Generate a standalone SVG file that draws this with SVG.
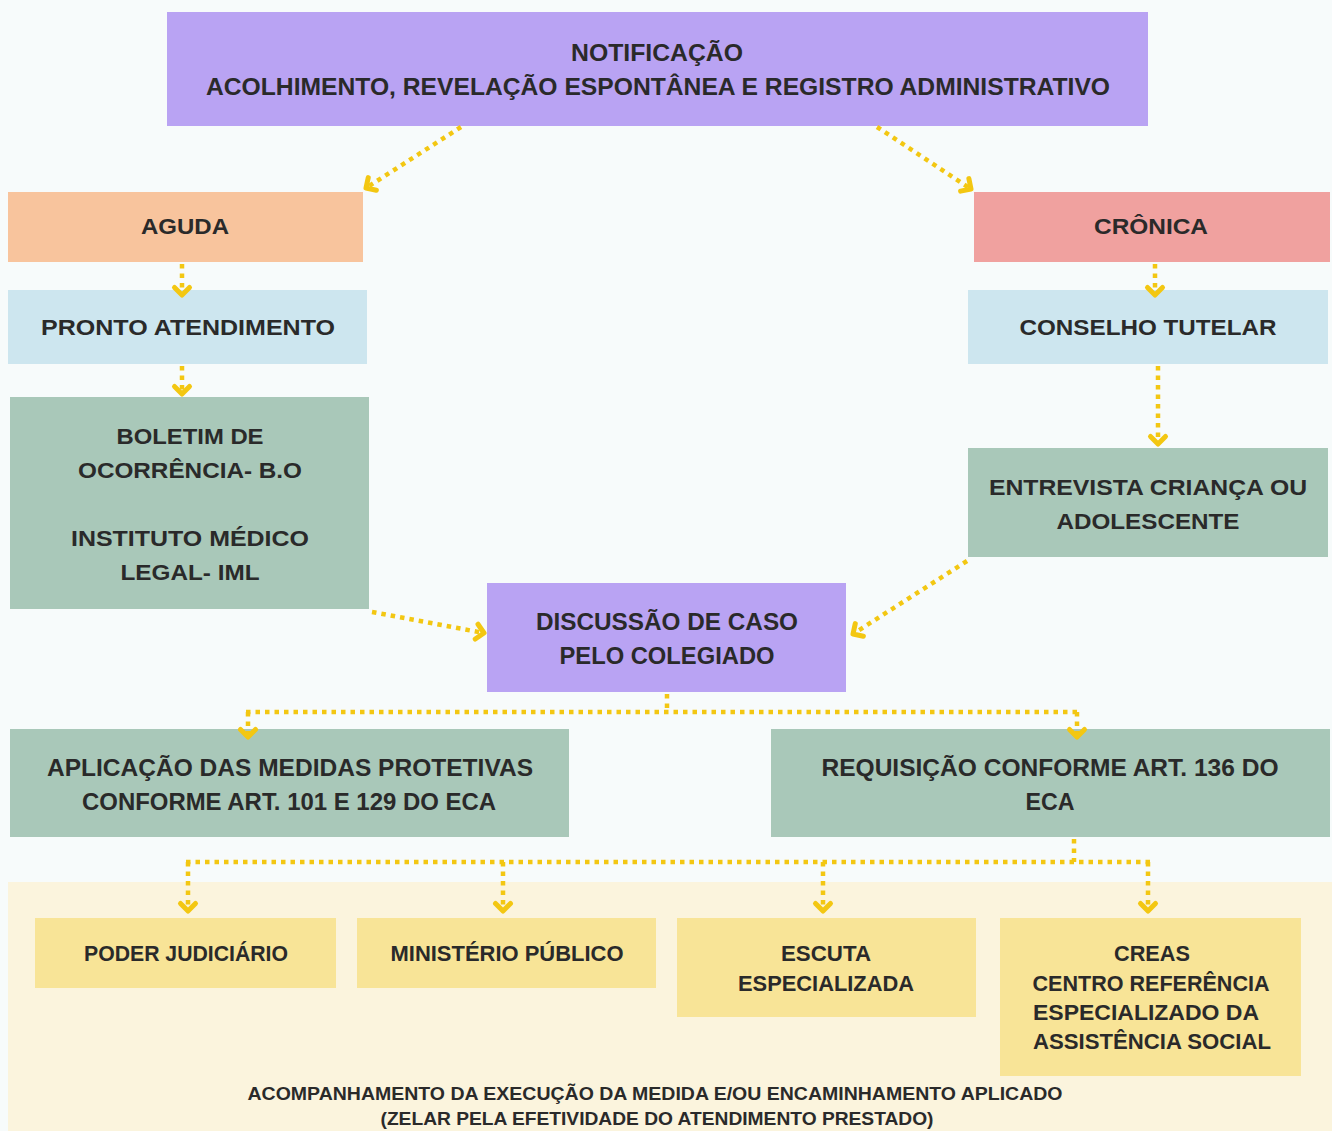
<svg xmlns="http://www.w3.org/2000/svg" width="1332" height="1131" viewBox="0 0 1332 1131">
<defs>
<marker id="chev" viewBox="-12 -12 24 24" refX="0" refY="0" markerWidth="24" markerHeight="24" markerUnits="userSpaceOnUse" orient="auto">
<path d="M-7.5,-7.5 L0,0 L-7.5,7.5" fill="none" stroke="#f3c712" stroke-width="5" stroke-linecap="round" stroke-linejoin="round"/>
</marker>
<style>
.t{font-family:"Liberation Sans",Arial,sans-serif;font-weight:bold;fill:#2a2a2a;text-anchor:middle;font-size:22px}
.c{font-family:"Liberation Sans",Arial,sans-serif;font-weight:bold;fill:#2a2a2a;text-anchor:middle;font-size:24px}
.f{font-family:"Liberation Sans",Arial,sans-serif;font-weight:bold;fill:#2a2a2a;text-anchor:middle;font-size:18px}
.d{fill:none;stroke:#f3c712;stroke-width:4.5;stroke-dasharray:4.5 5}
.a{marker-end:url(#chev)}
.purple{fill:#b9a3f3}
.green{fill:#a9c8b9}
.blue{fill:#cde6ef}
.yel{fill:#f8e497}
</style>
</defs>
<rect x="0" y="0" width="1332" height="1131" fill="#f7fbfb"/>
<rect x="8" y="882" width="1324" height="249" fill="#fbf4dd"/>

<g id="notificacao">
<rect class="purple" x="167" y="12" width="981" height="114"/>
<text class="c" x="657" y="61" textLength="172" lengthAdjust="spacingAndGlyphs">NOTIFICAÇÃO</text>
<text class="c" x="658" y="95" textLength="904" lengthAdjust="spacingAndGlyphs">ACOLHIMENTO, REVELAÇÃO ESPONTÂNEA E REGISTRO ADMINISTRATIVO</text>
</g>
<g id="aguda">
<rect x="8" y="192" width="355" height="70" fill="#f8c49d"/>
<text class="t" x="185" y="234" textLength="88" lengthAdjust="spacingAndGlyphs">AGUDA</text>
</g>
<g id="cronica">
<rect x="974" y="192" width="356" height="70" fill="#f0a19f"/>
<text class="t" x="1151" y="234" textLength="114" lengthAdjust="spacingAndGlyphs">CRÔNICA</text>
</g>
<g id="pronto">
<rect class="blue" x="8" y="290" width="359" height="74"/>
<text class="t" x="188" y="335" textLength="294" lengthAdjust="spacingAndGlyphs">PRONTO ATENDIMENTO</text>
</g>
<g id="conselho">
<rect class="blue" x="968" y="290" width="360" height="74"/>
<text class="t" x="1148" y="335" textLength="257" lengthAdjust="spacingAndGlyphs">CONSELHO TUTELAR</text>
</g>
<g id="boletim">
<rect class="green" x="10" y="397" width="359" height="212"/>
<text class="t" x="190" y="444" textLength="147" lengthAdjust="spacingAndGlyphs">BOLETIM DE</text>
<text class="t" x="190" y="478" textLength="224" lengthAdjust="spacingAndGlyphs">OCORRÊNCIA- B.O</text>
<text class="t" x="190" y="546" textLength="238" lengthAdjust="spacingAndGlyphs">INSTITUTO MÉDICO</text>
<text class="t" x="190" y="580" textLength="139" lengthAdjust="spacingAndGlyphs">LEGAL- IML</text>
</g>
<g id="entrevista">
<rect class="green" x="968" y="448" width="360" height="109"/>
<text class="t" x="1148" y="495" textLength="318" lengthAdjust="spacingAndGlyphs">ENTREVISTA CRIANÇA OU</text>
<text class="t" x="1148" y="529" textLength="183" lengthAdjust="spacingAndGlyphs">ADOLESCENTE</text>
</g>
<g id="discussao">
<rect class="purple" x="487" y="583" width="359" height="109"/>
<text class="c" x="667" y="630" textLength="262" lengthAdjust="spacingAndGlyphs">DISCUSSÃO DE CASO</text>
<text class="c" x="667" y="664" textLength="215" lengthAdjust="spacingAndGlyphs">PELO COLEGIADO</text>
</g>
<g id="aplicacao">
<rect class="green" x="10" y="729" width="559" height="108"/>
<text class="c" x="290" y="776" textLength="486" lengthAdjust="spacingAndGlyphs">APLICAÇÃO DAS MEDIDAS PROTETIVAS</text>
<text class="c" x="289" y="810" textLength="414" lengthAdjust="spacingAndGlyphs">CONFORME ART. 101 E 129 DO ECA</text>
</g>
<g id="requisicao">
<rect class="green" x="771" y="729" width="559" height="108"/>
<text class="c" x="1050" y="776" textLength="457" lengthAdjust="spacingAndGlyphs">REQUISIÇÃO CONFORME ART. 136 DO</text>
<text class="c" x="1050" y="810" textLength="49" lengthAdjust="spacingAndGlyphs">ECA</text>
</g>
<g id="poder">
<rect class="yel" x="35" y="918" width="301" height="70"/>
<text class="t" x="186" y="961" textLength="204" lengthAdjust="spacingAndGlyphs">PODER JUDICIÁRIO</text>
</g>
<g id="ministerio">
<rect class="yel" x="357" y="918" width="299" height="70"/>
<text class="t" x="507" y="961" textLength="233" lengthAdjust="spacingAndGlyphs">MINISTÉRIO PÚBLICO</text>
</g>
<g id="escuta">
<rect class="yel" x="677" y="918" width="299" height="99"/>
<text class="t" x="826" y="961" textLength="90" lengthAdjust="spacingAndGlyphs">ESCUTA</text>
<text class="t" x="826" y="991" textLength="176" lengthAdjust="spacingAndGlyphs">ESPECIALIZADA</text>
</g>
<g id="creas">
<rect class="yel" x="1000" y="918" width="301" height="158"/>
<text class="t" x="1152" y="961" textLength="76" lengthAdjust="spacingAndGlyphs">CREAS</text>
<text class="t" x="1151" y="991" textLength="237" lengthAdjust="spacingAndGlyphs">CENTRO REFERÊNCIA</text>
<text class="t" x="1146" y="1020" textLength="226" lengthAdjust="spacingAndGlyphs">ESPECIALIZADO DA</text>
<text class="t" x="1152" y="1049" textLength="238" lengthAdjust="spacingAndGlyphs">ASSISTÊNCIA SOCIAL</text>
</g>
<g id="acompanhamento">
<text class="f" x="655" y="1100" textLength="815" lengthAdjust="spacingAndGlyphs">ACOMPANHAMENTO DA EXECUÇÃO DA MEDIDA E/OU ENCAMINHAMENTO APLICADO</text>
<text class="f" x="657" y="1125" textLength="553" lengthAdjust="spacingAndGlyphs">(ZELAR PELA EFETIVIDADE DO ATENDIMENTO PRESTADO)</text>
</g>

<g id="connectors">
<path class="d a" d="M461,127 L366,188"/>
<path class="d a" d="M877,127 L971,189"/>
<path class="d a" d="M182,264 L182,295"/>
<path class="d a" d="M182,366 L182,394"/>
<path class="d a" d="M1155,264 L1155,295"/>
<path class="d a" d="M1158,366 L1158,444"/>
<path class="d a" d="M372,612 L484,633"/>
<path class="d a" d="M967,561 L853,634"/>
<path class="d" d="M667,694 L667,712"/>
<path class="d" d="M246,712 L1080,712"/>
<path class="d a" d="M248,712 L248,737"/>
<path class="d a" d="M1077,712 L1077,737"/>
<path class="d" d="M1074,839 L1074,862"/>
<path class="d" d="M186,862 L1150,862"/>
<path class="d a" d="M188,862 L188,911"/>
<path class="d a" d="M503,862 L503,911"/>
<path class="d a" d="M823,862 L823,911"/>
<path class="d a" d="M1148,862 L1148,911"/>
</g>
</svg>
